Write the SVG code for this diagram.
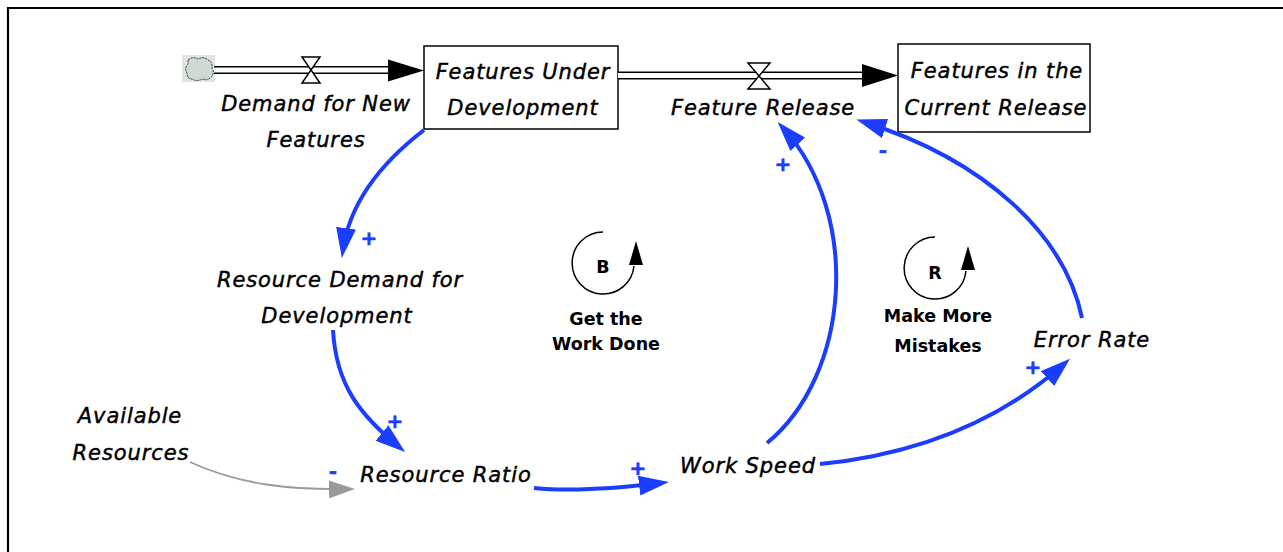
<svg xmlns="http://www.w3.org/2000/svg" width="1283" height="552" viewBox="0 0 1283 552">
<style>
.lbl{font-family:"DejaVu Sans","Liberation Sans",sans-serif;font-style:italic;font-size:21px;letter-spacing:0.9px;fill:#000;stroke:#000;stroke-width:0.45;text-anchor:middle}
.loop{font-family:"DejaVu Sans","Liberation Sans",sans-serif;font-weight:bold;font-size:17.5px;fill:#000;text-anchor:middle}
.pol{font-family:"DejaVu Sans","Liberation Sans",sans-serif;font-weight:bold;font-size:20px;fill:#1a3dff;stroke:#1a3dff;stroke-width:0.6;text-anchor:middle;dominant-baseline:central}
.link{fill:none;stroke:#1a3dff;stroke-width:4;marker-end:url(#ab)}
.glink{fill:none;stroke:#999;stroke-width:1.8;marker-end:url(#ag)}
.box{fill:#fff;stroke:#000;stroke-width:1.5}
.pipeo{stroke:#000;stroke-width:8;fill:none}
.pipei{stroke:#fff;stroke-width:5;fill:none}
.valve{fill:#fff;stroke:#000;stroke-width:1.5}
</style>
<defs>
<marker id="ab" viewBox="0 0 30 20" refX="22" refY="10" markerWidth="30" markerHeight="20" markerUnits="userSpaceOnUse" orient="auto"><path d="M0,0 L30,10 L0,20 Z" fill="#1a3dff"/></marker>
<marker id="ag" viewBox="0 0 26 18" refX="22" refY="9" markerWidth="26" markerHeight="18" markerUnits="userSpaceOnUse" orient="auto"><path d="M0,0 L26,9 L0,18 Z" fill="#999"/></marker>
</defs>
<rect width="1283" height="552" fill="#fff"/>
<path d="M8,552 L8,8 L1283,8" fill="none" stroke="#000" stroke-width="2.2"/>

<g id="cloud">
<rect x="182" y="55" width="33" height="27" fill="#dfe6df"/>
<path d="M188,60 q5,-4 10,-1 q6,-3 10,1 q5,2 4,8 q3,5 -1,9 q-3,4 -9,2 q-5,3 -10,0 q-5,0 -5,-6 q-3,-5 1,-9 z" fill="#d0d9d1" stroke="#333" stroke-width="1" stroke-dasharray="2,1"/>
</g>

<g id="flow-demand">
<path class="pipeo" d="M214,70 L392,70"/>
<path class="pipei" d="M214,70 L394,70"/>
<path d="M388,59.5 L424,70.5 L388,81.5 Z" fill="#000"/>
<path class="valve" d="M302,57 L320,57 L302,83 L320,83 Z"/>
<text class="lbl" x="316" y="111">Demand for New</text>
<text class="lbl" x="316" y="147">Features</text>
</g>

<g id="stock-under-dev">
<rect class="box" x="424" y="46" width="194" height="83"/>
<text class="lbl" x="523" y="79">Features Under</text>
<text class="lbl" x="523" y="115">Development</text>
</g>

<g id="flow-release">
<path class="pipeo" d="M618,75.5 L866,75.5"/>
<path class="pipei" d="M618,75.5 L868,75.5"/>
<path d="M862,64 L898,75.5 L862,87 Z" fill="#000"/>
<path class="valve" d="M748,63 L770,63 L748,89 L770,89 Z"/>
<text class="lbl" x="763" y="115">Feature Release</text>
</g>

<g id="stock-current">
<rect class="box" x="898" y="44" width="192" height="88"/>
<text class="lbl" x="997" y="78">Features in the</text>
<text class="lbl" x="996" y="115">Current Release</text>
</g>

<g id="resource-demand">
<text class="lbl" x="340" y="287">Resource Demand for</text>
<text class="lbl" x="337" y="323">Development</text>
</g>
<g id="available-resources">
<text class="lbl" x="130" y="423">Available</text>
<text class="lbl" x="131" y="460">Resources</text>
</g>
<g id="resource-ratio"><text class="lbl" x="446" y="482">Resource Ratio</text></g>
<g id="work-speed"><text class="lbl" x="748" y="473">Work Speed</text></g>
<g id="error-rate"><text class="lbl" x="1092" y="347">Error Rate</text></g>

<g id="loop-B">
<path d="M603,232 A31,31 0 1 0 634,266" fill="none" stroke="#000" stroke-width="1.5"/>
<path d="M636,241 L629,265 L643,265 Z" fill="#000"/>
<text class="loop" x="603" y="273" font-size="20">B</text>
<text class="loop" x="606" y="325">Get the</text>
<text class="loop" x="606" y="350">Work Done</text>
</g>
<g id="loop-R">
<path d="M935,237 A31,31 0 1 0 966,271" fill="none" stroke="#000" stroke-width="1.5"/>
<path d="M968,246 L961,270 L975,270 Z" fill="#000"/>
<text class="loop" x="935" y="279" font-size="20">R</text>
<text class="loop" x="938" y="322">Make More</text>
<text class="loop" x="938" y="352">Mistakes</text>
</g>

<g id="connectors">
<path class="link" d="M424,130 C385,160 350,200 343,250"/>
<path class="link" d="M333,330 C336,385 360,415 399,447"/>
<path class="glink" d="M190,462 C240,485 290,490 351,489"/>
<path class="link" d="M534,488 C575,492 620,488 661,483"/>
<path class="link" d="M767,443 C850,375 862,215 783,128"/>
<path class="link" d="M820,464 C910,455 995,425 1064,364"/>
<path class="link" d="M1082,318 C1065,235 985,160 864,122"/>
<text class="pol" x="369" y="238">+</text>
<text class="pol" x="395" y="421">+</text>
<text class="pol" x="333" y="471">-</text>
<text class="pol" x="638" y="468">+</text>
<text class="pol" x="783" y="164">+</text>
<text class="pol" x="883" y="150">-</text>
<text class="pol" x="1033" y="367">+</text>
</g>
</svg>
